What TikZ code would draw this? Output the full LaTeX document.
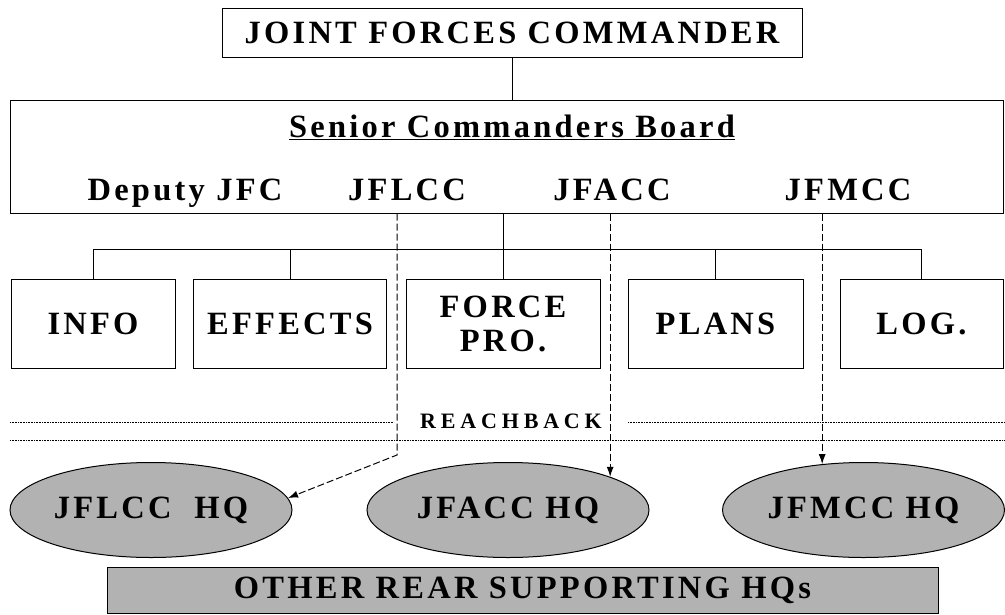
\documentclass[tikz,border=0pt]{standalone}
\usepackage{fontspec}
\newfontfamily\orgfont{Liberation Serif}[LetterSpace=10]
\newfontfamily\reachfont{Liberation Serif}[LetterSpace=22]
\usetikzlibrary{positioning, shapes.geometric, arrows.meta}

\begin{document}
\begin{tikzpicture}[x=1pt, y=-1pt, >={Latex[length=10pt,width=7pt]}, line width=1pt,
    big/.style={font=\orgfont\bfseries\fontsize{32.5}{34}\selectfont},
    box/.style={draw, big, inner sep=0pt, align=center},
    hq/.style={ellipse, draw, big, fill=black!30, inner sep=0pt,
      minimum width=282pt, minimum height=95pt},
    link/.style={->, dash pattern=on 7pt off 3pt, line width=1pt},
    reachline/.style={densely dotted, line width=0.6pt}]

  \useasboundingbox (0,0) rectangle (1005,614);

  \node[box, minimum width=580pt, minimum height=49pt] (jfc) at (512,32.5) {JOINT FORCES COMMANDER};
  \node[box, minimum width=993pt, minimum height=113pt] (board) at (506.5,156.5) {};
  \node[big, anchor=base] (scb) at (512,137) {\underline{Senior Commanders Board}};
  \node[big, anchor=base] (dep) at (185,200) {Deputy JFC};
  \node[big, anchor=base] (jflcc) at (407,200) {JFLCC};
  \node[big, anchor=base] (jfacc) at (612,200) {JFACC};
  \node[big, anchor=base] (jfmcc) at (848,200) {JFMCC};

  \node[box, minimum width=164pt, minimum height=89pt] (info) at (93,323.5) {INFO};
  \node[box, minimum width=193pt, minimum height=89pt] (effects) at (290,323.5) {EFFECTS};
  \node[box, minimum width=194pt, minimum height=89pt] (force) at (503,323.5) {FORCE\\PRO.};
  \node[box, minimum width=175pt, minimum height=89pt] (plans) at (715.5,323.5) {PLANS};
  \node[box, minimum width=163pt, minimum height=89pt] (log) at (921.5,323.5) {LOG.};

  \node[anchor=base, font=\reachfont\bfseries\fontsize{22}{24}\selectfont] (reach) at (511,428) {REACHBACK};

  \node[hq] (lhq) at (151,510) {JFLCC\ \ HQ};
  \node[hq] (ahq) at (508,510) {JFACC HQ};
  \node[hq] (mhq) at (863.5,510) {JFMCC HQ};
  \node[box, fill=black!30, minimum width=831pt, minimum height=46pt] (rear) at (522.5,590) {OTHER REAR SUPPORTING HQs};

  \coordinate (bus) at (0,249);
  \coordinate (lbend) at (397,455);

  \draw (jfc.south) -- (jfc.south |- board.north);
  \draw (board.south -| force.north) -- (force.north);
  \draw (info.north) |- (bus -| log.north) -- (log.north);
  \foreach \n in {effects, plans}
    \draw (\n.north) -- (\n.north |- bus);

  \draw[reachline] (10,422) -- (394,422);
  \draw[reachline] (628,422) -- (1005,422);
  \draw[reachline] (10,440) -- (1005,440);

  \draw[link] (board.south -| lbend) -- (lbend) -- (lhq.5);
  \draw[link] (board.south -| ahq.18) -- (ahq.18);
  \draw[link] (board.south -| mhq.132) -- (mhq.132);
\end{tikzpicture}
\end{document}
